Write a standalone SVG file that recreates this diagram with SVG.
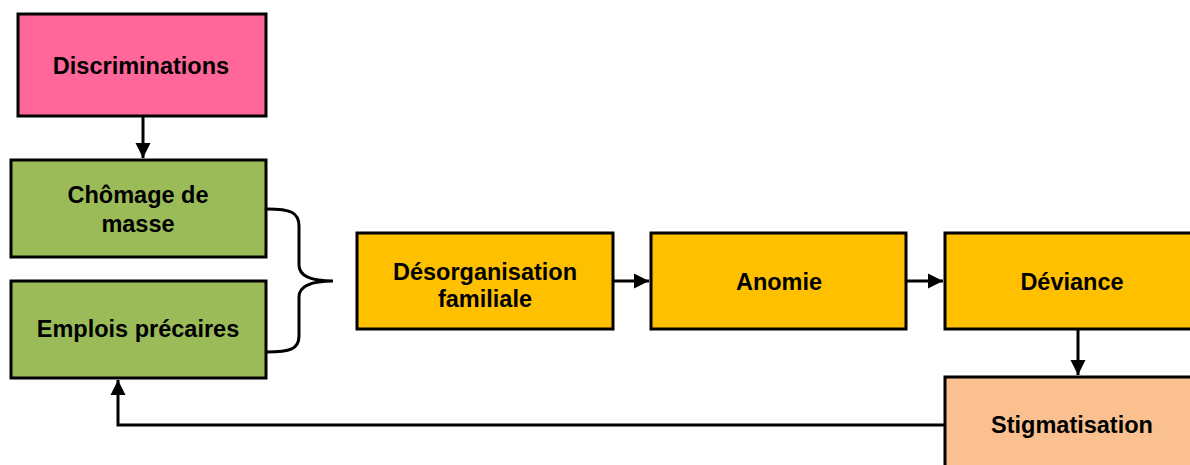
<svg xmlns="http://www.w3.org/2000/svg" width="1190" height="465" viewBox="0 0 1190 465">
<defs>
<style>
.box{stroke:#000;stroke-width:3}
.t{font-family:"Liberation Sans",Arial,sans-serif;font-weight:bold;font-size:23.5px;text-anchor:middle;fill:#000}
.c{fill:none;stroke:#000;stroke-width:3}
</style>
<marker id="ah" viewBox="0 0 10 10" refX="10" refY="5" markerWidth="5" markerHeight="5.3" markerUnits="strokeWidth" orient="auto">
<path d="M0,0 L10,5 L0,10 z" fill="#000"/>
</marker>
</defs>
<rect width="1190" height="465" fill="#fff"/>
<g id="connectors">
<line class="c" x1="143" y1="117" x2="143" y2="158" marker-end="url(#ah)"/>
<path class="c" d="M267,209 C290,209 299,212 299,226 L299,265 C299,276 310,281 333,281 C310,281 299,286 299,297 L299,336 C299,349 290,352 267,352"/>
<line class="c" x1="613" y1="281" x2="649" y2="281" marker-end="url(#ah)"/>
<line class="c" x1="907" y1="281" x2="943" y2="281" marker-end="url(#ah)"/>
<line class="c" x1="1078" y1="330" x2="1078" y2="375" marker-end="url(#ah)"/>
<polyline class="c" points="945,425 118,425 118,380" marker-end="url(#ah)"/>
</g>
<g id="discriminations">
<rect class="box" x="18" y="14" width="248" height="102" fill="#FF6699"/>
<text class="t" x="141" y="74">Discriminations</text>
</g>
<g id="chomage">
<rect class="box" x="11" y="160" width="255" height="97" fill="#9BBB59"/>
<text class="t" x="138" y="203">Chômage de</text>
<text class="t" x="138" y="232">masse</text>
</g>
<g id="emplois">
<rect class="box" x="11" y="281" width="255" height="97" fill="#9BBB59"/>
<text class="t" x="138" y="337">Emplois précaires</text>
</g>
<g id="desorganisation">
<rect class="box" x="357" y="233" width="256" height="96" fill="#FFC000"/>
<text class="t" x="485" y="280">Désorganisation</text>
<text class="t" x="485" y="307">familiale</text>
</g>
<g id="anomie">
<rect class="box" x="651" y="233" width="255" height="96" fill="#FFC000"/>
<text class="t" x="779" y="290">Anomie</text>
</g>
<g id="deviance">
<rect class="box" x="945" y="233" width="255" height="96" fill="#FFC000"/>
<text class="t" x="1072" y="290">Déviance</text>
</g>
<g id="stigmatisation">
<rect class="box" x="945" y="377" width="255" height="100" fill="#FAC090"/>
<text class="t" x="1072" y="433">Stigmatisation</text>
</g>
</svg>
